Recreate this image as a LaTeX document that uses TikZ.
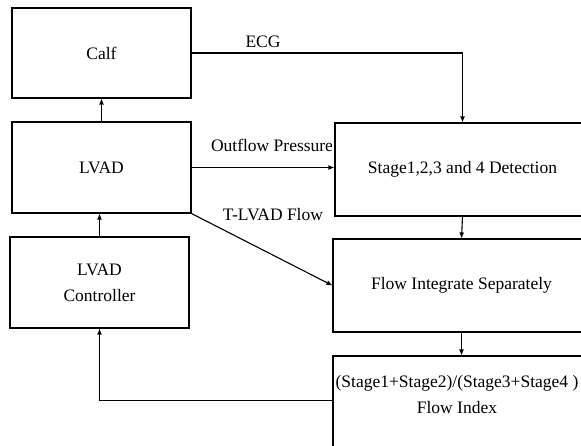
\documentclass[tikz,border=0pt]{standalone}
\usepackage{fontspec}
\setmainfont{Liberation Serif}
\usetikzlibrary{arrows.meta,calc}

\begin{document}
\begin{tikzpicture}[x=1pt,y=-1pt,line width=1.1pt,
  font=\fontsize{17.5}{26}\selectfont,
  box/.style={draw, inner sep=0pt, align=center},
  arr/.style={-{Latex[length=6pt,width=5pt]}}]
  \useasboundingbox (0,0) rectangle (581,446);
  \clip (0,0) rectangle (581,446);
  % left column
  \node[box, minimum width=179pt, minimum height=90pt] (calf) at (101.5,53) {Calf};
  \node[box, minimum width=179pt, minimum height=91pt] (lvad) at (101.5,167.5) {LVAD};
  \node[box, minimum width=179pt, minimum height=91pt] (ctrl) at (99.5,282.5) {LVAD\\Controller};
  % right column (cut at the page edge)
  \node[box, minimum width=255pt, minimum height=93pt] (stage) at (462.5,169.5) {Stage1,2,3 and 4 Detection};
  \node[box, minimum width=257pt, minimum height=93pt] (integ) at (461.5,285.5) {Flow Integrate Separately};
  \node[box, minimum width=257pt, minimum height=114pt] (index) at (461.5,413) {};
  \node[align=center, inner sep=0pt] (indextext) at (457,395) {(Stage1+Stage2)/(Stage3+Stage4 )\\Flow Index};
  % signals
  \draw[arr] (lvad.north) -- (calf.south);
  \draw[arr] (ctrl.north) -- (lvad.south -| ctrl.north);
  \draw[arr] (calf.east) -| (stage.north);
  \node (ecg) at (263,42) {ECG};
  \draw[arr] (lvad.east) -- (lvad.east -| stage.west);
  \node (outflow) at (272,145) {Outflow Pressure};
  \draw[arr] (lvad.south east) -- (integ.west);
  \node (tlvad) at (273,215) {T-LVAD Flow};
  \draw[arr] (stage.south) -- (integ.north);
  \draw[arr] (integ.south) -- (index.north);
  % feedback
  \draw[arr] ($(index.north west)+(0,45)$) -| (ctrl.south);
\end{tikzpicture}
\end{document}
